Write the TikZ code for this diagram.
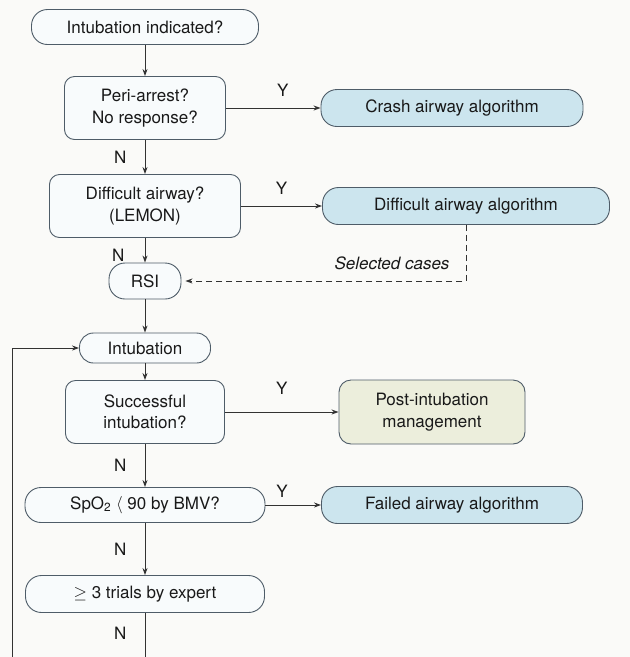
\documentclass[tikz,border=0pt]{standalone}
\usepackage{fontspec}
\setmainfont{TeX Gyre Heros}
\usetikzlibrary{arrows.meta,positioning}
\definecolor{bgpaper}{RGB}{250,250,248}
\definecolor{boxline}{RGB}{78,92,104}
\definecolor{boxfill}{RGB}{248,251,252}
\definecolor{algoblue}{RGB}{204,229,238}
\definecolor{postgreen}{RGB}{236,238,220}
\definecolor{arrowgray}{RGB}{50,50,50}
\tikzset{
  % pill style is used for the one line boxes with round ends
  pill/.style={draw=boxline, fill=boxfill, line width=0.9pt, rectangle,
  rounded corners=16pt, minimum height=35pt, inner sep=0pt,
  text=black!90, font=\fontsize{17}{21.5}\selectfont},
  query/.style={pill, rounded corners=10pt, minimum height=63pt, align=center},
  algo/.style={pill, fill=algoblue},
  link/.style={draw=arrowgray, line width=0.9pt},
  yn/.style={text=black!90, font=\fontsize{17}{20}\selectfont}}

\begin{document}
\begin{tikzpicture}[x=1pt, y=-1pt, >={Stealth[length=7pt,width=5pt]}]

\clip (0,0) rectangle (630,657);
\fill [bgpaper] (0,0) rectangle (630,657);

% main column
\draw (145,27) node (ind) [pill, minimum width=227pt] {Intubation indicated?};
\draw (145,108) node (peri) [query, minimum width=161pt] {Peri-arrest?\\No response?};
\draw (145,206) node (diff) [query, minimum width=191pt] {Difficult airway?\\(LEMON)};
\draw (145,281) node (rsi) [pill, minimum width=72pt, minimum height=36pt] {RSI};
\draw (145,348) node (intub) [pill, minimum width=131pt, minimum height=30pt, rounded corners=14pt] {Intubation};
\draw (145,412) node (succ) [query, minimum width=159pt] {Successful\\intubation?};
\draw (145,505) node (spo) [pill, minimum width=240pt] {SpO\textsubscript{2} $\langle$ 90 by BMV?};
\draw (145,594) node (trials) [pill, minimum width=239pt, minimum height=37pt] {$\geq$ 3 trials by expert};

% right column
\draw (452,108) node (crash) [algo, minimum width=262pt, minimum height=37pt] {Crash airway algorithm};
\draw (466,206) node (dalg) [algo, minimum width=287pt, minimum height=37pt] {Difficult airway algorithm};
\draw (432,412) node (post) [query, fill=postgreen, minimum width=186pt, minimum height=64pt, rounded corners=12pt] {Post-intubation\\management};
\draw (452,505) node (falg) [algo, minimum width=261pt, minimum height=37pt] {Failed airway algorithm};

\draw [link, ->] (ind) -- (peri);

\draw [link, ->] (peri) -- coordinate[pos=0.6](a) (crash);
\draw (a) node [yn, above=8pt] {Y};
\draw [link, ->] (peri) -- coordinate(a) (diff);
\draw (a) node [yn, left=15pt] {N};

\draw [link, ->] (diff) -- coordinate(a) (dalg);
\draw (a) node [yn, above=8pt] {Y};
\draw [link, ->] (diff) -- coordinate[pos=0.7](a) (rsi);
\draw (a) node [yn, left=17pt] {N};

\draw [link, ->, dashed, dash pattern=on 6pt off 4pt, shorten >=4pt] (dalg) |- (rsi);
\draw (392,263) node (sel) [yn, font=\fontsize{17}{20}\selectfont\itshape] {Selected cases};

\draw [link, ->] (rsi) -- (intub);
\draw [link, ->] (intub) -- (succ);

\draw [link, ->] (succ) -- coordinate(a) (post);
\draw (a) node [yn, above=14pt] {Y};
\draw [link, ->] (succ) -- coordinate(a) (spo);
\draw (a) node [yn, left=15pt] {N};

\draw [link, ->] (spo) -- coordinate[pos=0.3](a) (falg);
\draw (a) node [yn, above=4pt] {Y};
\draw [link, ->] (spo) -- coordinate(a) (trials);
\draw (a) node [yn, left=15pt] {N};

% loop back to intubation
\coordinate (back) at (12,690);
\draw [link, ->] (trials) |- (back) |- (intub);
\path (trials.south) -- +(0,20) coordinate(a);
\draw (a) node [yn, left=15pt] {N};

\end{tikzpicture}
\end{document}
